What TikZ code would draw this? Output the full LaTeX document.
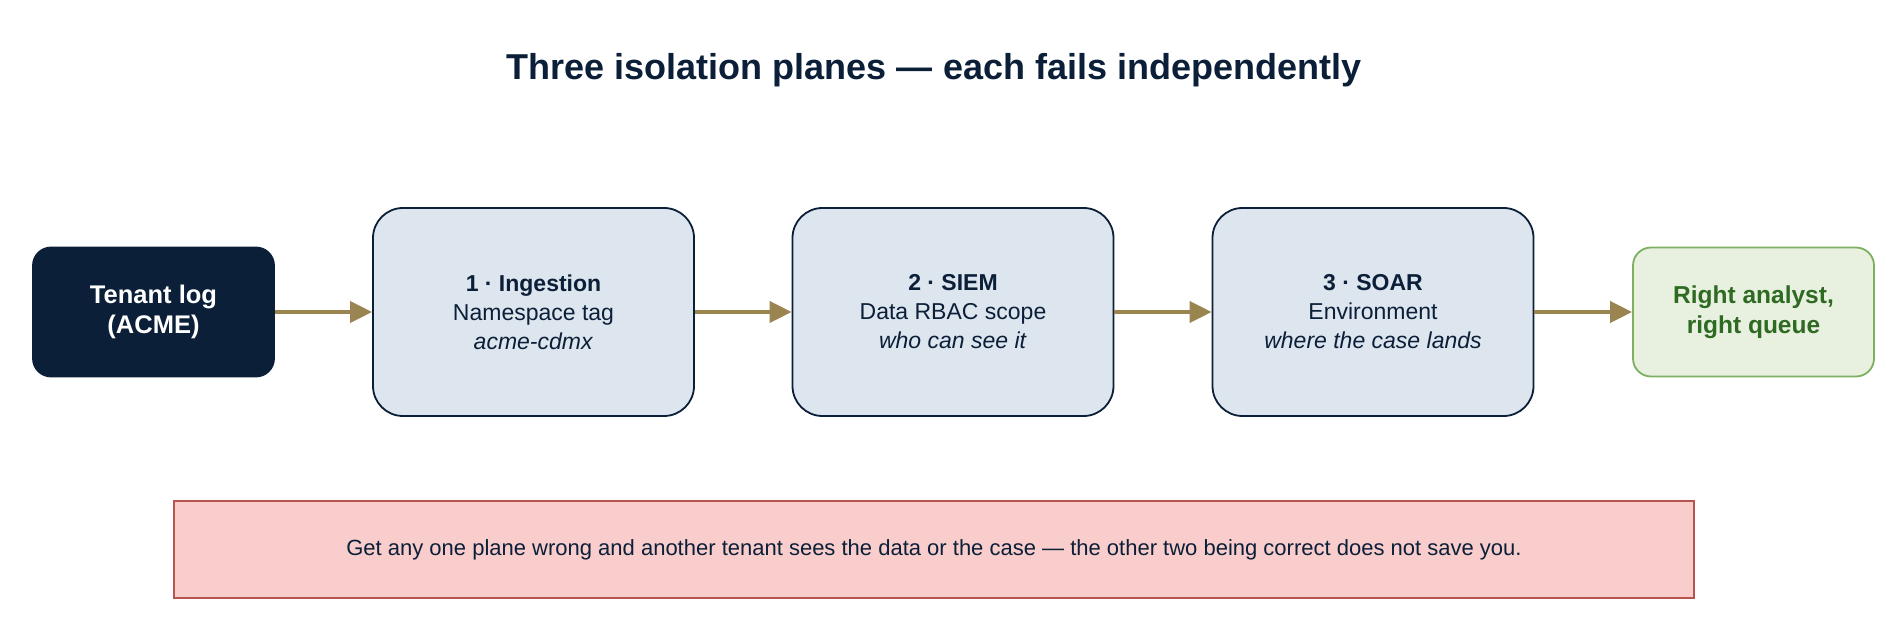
\documentclass[tikz,border=0pt]{standalone}
\usepackage{fontspec}
\setmainfont{Liberation Sans}
\usetikzlibrary{arrows.meta}
\definecolor{navy}{HTML}{0B1F38}
\definecolor{planefill}{HTML}{DDE5EE}
\definecolor{arrowc}{HTML}{9A8550}
\definecolor{greenfill}{HTML}{E8F1E0}
\definecolor{greenline}{HTML}{7DB062}
\definecolor{greentext}{HTML}{2F6A22}
\definecolor{pinkfill}{HTML}{F8CDCC}
\definecolor{pinkline}{HTML}{B85450}
\tikzset{
  bodyfont/.style={font=\fontsize{23}{29}\selectfont},
  plane/.style={draw=navy, line width=1.8pt, fill=planefill, rounded corners=30pt,
    minimum width=321pt, minimum height=208pt, align=center, text=navy, bodyfont},
  endbox/.style={line width=1.8pt, rounded corners=18pt,
    minimum width=241pt, minimum height=129pt, align=center},
  flow/.style={draw=arrowc, line width=4pt, -{Triangle[length=22pt,width=21pt]}},
}
\begin{document}
\begin{tikzpicture}[x=1pt,y=1pt]
\useasboundingbox[fill=white] (0,0) rectangle (1893,-617);
\node[font=\fontsize{36}{42}\selectfont\bfseries, text=navy] (title) at (934,-70) {Three isolation planes — each fails independently};
\node[endbox, draw=navy, fill=navy, text=white, font=\fontsize{25.5}{30}\selectfont] (tenant) at (153.5,-312) {\textbf{Tenant log}\\\textbf{(ACME)}};
\node[plane] (p1) at (533.5,-312) {\textbf{1 · Ingestion}\\Namespace tag\\\textit{acme-cdmx}};
\node[plane] (p2) at (953,-312) {\textbf{2 · SIEM}\\Data RBAC scope\\\textit{who can see it}};
\node[plane] (p3) at (1373,-312) {\textbf{3 · SOAR}\\Environment\\\textit{where the case lands}};
\node[endbox, draw=greenline, fill=greenfill, text=greentext, font=\fontsize{24.5}{29.5}\selectfont] (out) at (1753.5,-312) {\textbf{Right analyst,}\\\textbf{right queue}};
\draw[flow] (tenant) -- (p1);
\draw[flow] (p1) -- (p2);
\draw[flow] (p2) -- (p3);
\draw[flow] (p3) -- (out);
\node[draw=pinkline, line width=1.8pt, fill=pinkfill, minimum width=1520pt, minimum height=97pt,
  text=navy, font=\fontsize{22}{26}\selectfont] (note) at (934,-549.5) {Get any one plane wrong and another tenant sees the data or the case — the other two being correct does not save you.};
\end{tikzpicture}
\end{document}
